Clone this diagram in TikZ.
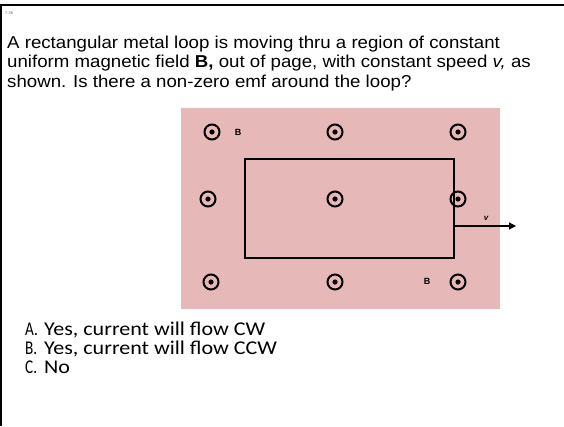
\documentclass[tikz,border=0pt]{standalone}
\usepackage{fontspec}
\setmainfont{Liberation Sans}
\newfontfamily\qfont{Liberation Sans}[FakeStretch=1.085]
\newfontfamily\calfont{Carlito}[FakeStretch=1.13]
\newfontfamily\callabel{Carlito}
\usetikzlibrary{arrows.meta}
\definecolor{fieldpink}{HTML}{E6B8B7}
\begin{document}
\begin{tikzpicture}[x=1pt,y=-1pt,
  qline/.style={anchor=base west,inner sep=0pt,font=\qfont\fontsize{17.2}{19.7}\selectfont},
  ansline/.style={anchor=base west,inner sep=0pt,font=\calfont\fontsize{19.5}{22}\selectfont},
  anslabel/.style={anchor=base west,inner sep=0pt,font=\callabel\fontsize{19.5}{22}\selectfont},
  outdot/.style={circle,draw=black,line width=2pt,minimum size=15pt,inner sep=0pt,
     path picture={\fill[black] (path picture bounding box.center) circle (2.6pt);}},
  blabel/.style={font=\bfseries\fontsize{9}{10}\selectfont,inner sep=0pt}]
\useasboundingbox (0,0) rectangle (564,426);
% frame
\draw[line width=2.6pt] (0,5) -- (564,5);
\draw[line width=2.2pt] (1.1,4) -- (1.1,426);
\node[anchor=base west,inner sep=0pt,font=\fontsize{4}{4}\selectfont,text=black!60] (num) at (5,14) {7.26};
% question
\node[qline] (q1) at (7,48) {A rectangular metal loop is moving thru a region of constant};
\node[qline] (q2) at (7,67.7) {uniform magnetic field \textbf{B,} out of page, with constant speed \textit{v,} as};
\node[qline] (q3) at (7,87.4) {shown. Is there a non-zero emf around the loop?};
% field region
\fill[fieldpink] (181,108) rectangle (500,309);
% dots
\node[outdot] (d11) at (212,132) {};
\node[outdot] (d12) at (335,132) {};
\node[outdot] (d13) at (458,132) {};
\node[outdot] (d21) at (208,199) {};
\node[outdot] (d22) at (335,199) {};
\node[outdot] (d23) at (458,199) {};
\node[outdot] (d31) at (211,282) {};
\node[outdot] (d32) at (335,282) {};
\node[outdot] (d33) at (458,282) {};
\node[blabel] (b1) at (238,132) {B};
\node[blabel] (b2) at (427,281) {B};
% loop
\draw[line width=2.8pt] (245,159) rectangle (454,258);
\coordinate (vs) at (455,226);
\coordinate (ve) at (516,226);
\draw[line width=1.4pt,-{Stealth[length=7pt,width=7pt,inset=0pt]}] (vs) -- (ve);
\node[font=\itshape\fontsize{8}{9}\selectfont,inner sep=0pt] (v) at (486,218) {\textbf{v}};
% answers
\node[anslabel] (lA) at (25,335) {\scalebox{0.78}[1]{A.}};
\node[anslabel] (lB) at (25,354) {\scalebox{0.78}[1]{B.}};
\node[anslabel] (lC) at (25,373) {\scalebox{0.78}[1]{C.}};
\node[ansline] (aA) at (44,335) {Yes, current will flow CW};
\node[ansline] (aB) at (44,354) {Yes, current will flow CCW};
\node[ansline] (aC) at (44,373) {No};
\end{tikzpicture}
\end{document}
